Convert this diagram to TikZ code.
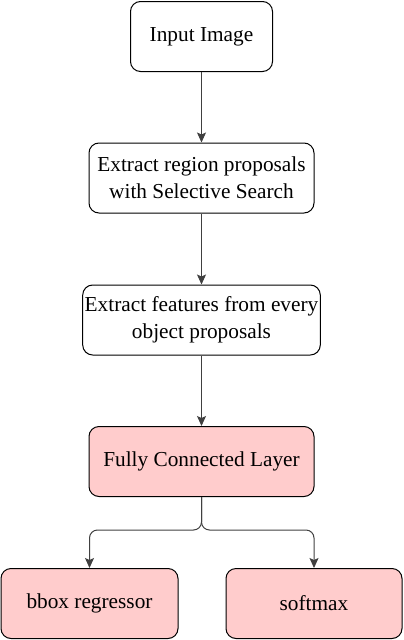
\documentclass[tikz,border=0pt]{standalone}
\usepackage{fontspec}
\setmainfont{Liberation Serif}
\usetikzlibrary{arrows.meta}

\begin{document}
\begin{tikzpicture}[x=1pt, y=-1pt,
    stepbox/.style={draw, rounded corners=10pt, line width=1pt, align=center,
      inner sep=2pt, minimum height=70pt, font=\fontsize{21.3}{27}\selectfont},
    pinkbox/.style={stepbox, fill=boxpink},
    arr/.style={-{Stealth[length=10pt, width=9pt, inset=2pt]}, line width=1pt, draw=black!75}]
    \definecolor{boxpink}{HTML}{FFCCCC}
    \useasboundingbox (0,0) rectangle (404,640);
    \node[stepbox, minimum width=142pt] (img) at (201.5,36.5) {Input Image};
    \node[stepbox, minimum width=225pt] (region) at (201.5,178) {Extract region proposals\\with Selective Search};
    \node[stepbox, minimum width=237pt] (feat) at (201.5,320) {Extract features from every\\object proposals};
    \node[pinkbox, minimum width=225pt] (fc) at (201.5,461.5) {Fully Connected Layer};
    \node[pinkbox, minimum width=177pt] (bbox) at (89.5,603.5) {bbox regressor};
    \node[pinkbox, minimum width=176pt] (soft) at (314,603.5) {softmax};
    \draw[arr] (img) -- (region);
    \draw[arr] (region) -- (feat);
    \draw[arr] (feat) -- (fc);
    % split into the two heads
    \coordinate (split) at (201.5,530);
    \draw[arr, rounded corners=8pt] (fc.south) -- (split) -| (bbox.north);
    \draw[arr, rounded corners=8pt] (fc.south) -- (split) -| (soft.north);
\end{tikzpicture}
\end{document}
